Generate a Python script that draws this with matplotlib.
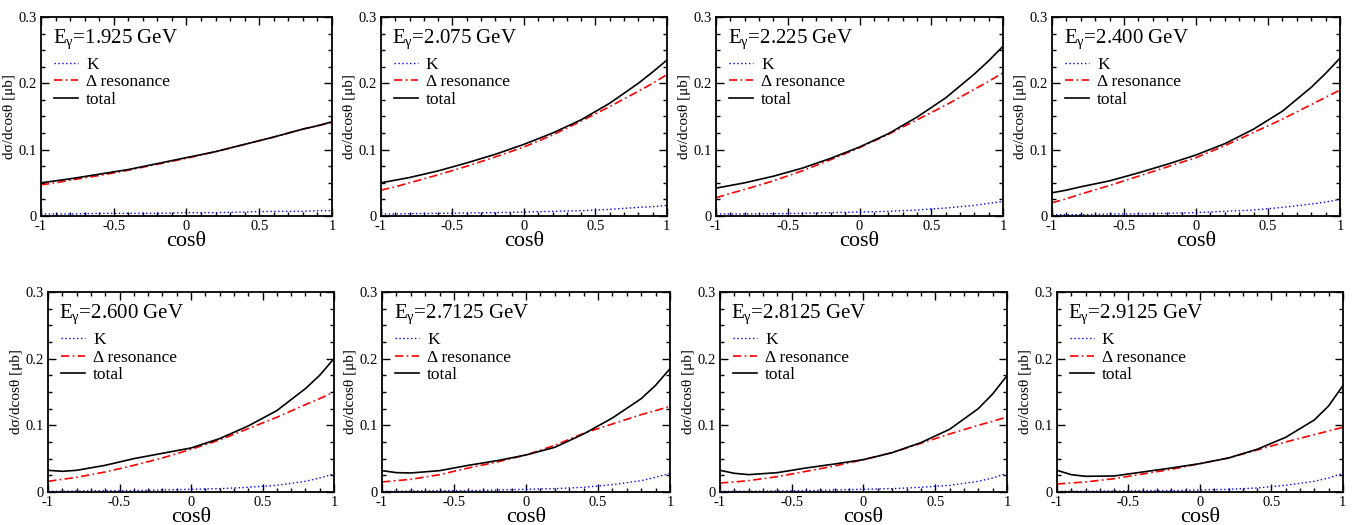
import matplotlib
matplotlib.use('Agg')
import matplotlib.pyplot as plt
from matplotlib.ticker import MultipleLocator, FuncFormatter

plt.rcParams['font.family'] = ['Liberation Serif', 'DejaVu Serif']
plt.rcParams['mathtext.fontset'] = 'custom'
plt.rcParams['mathtext.rm'] = 'Liberation Serif'
plt.rcParams['mathtext.it'] = 'Liberation Serif:italic'

# photon energies (GeV)
energies = ['1.925', '2.075', '2.225', '2.400', '2.600', '2.7125', '2.8125', '2.9125']

# cos(theta) sample points
cos_theta = [-1.0, -0.9, -0.8, -0.6, -0.4, -0.2, 0.0, 0.2, 0.4, 0.6, 0.8, 0.9, 1.0]

# dsigma/dcos(theta) [mub], one list per energy
k_exch = [
    [.003, .003, .003, .004, .004, .004, .005, .005, .006, .007, .007, .008, .008],
    [.003, .003, .0035, .004, .0045, .005, .006, .007, .008, .010, .013, .014, .016],
    [.003, .003, .003, .0035, .004, .005, .006, .007, .009, .012, .016, .019, .022],
    [.002, .002, .002, .003, .003, .004, .005, .007, .009, .013, .018, .021, .025],
    [.001, .001, .0015, .002, .002, .003, .004, .005, .007, .010, .016, .021, .027],
    [.001, .001, .0015, .002, .002, .003, .004, .005, .007, .011, .017, .022, .028],
    [.001, .001, .001, .0015, .002, .003, .004, .005, .007, .010, .016, .021, .028],
    [.001, .001, .001, .0015, .002, .002, .003, .004, .006, .010, .016, .021, .028],
]
delta_res = [
    [.047, .050, .054, .061, .069, .078, .087, .097, .108, .119, .131, .136, .141],
    [.039, .044, .050, .062, .075, .089, .104, .122, .143, .165, .188, .200, .213],
    [.0275, .034, .040, .053, .068, .085, .103, .123, .145, .167, .191, .203, .216],
    [.020, .026, .033, .046, .060, .074, .088, .106, .126, .146, .168, .179, .190],
    [.016, .019, .022, .030, .040, .051, .064, .078, .095, .112, .131, .140, .150],
    [.015, .017, .019, .026, .036, .045, .0555, .070, .088, .102, .116, .122, .1285],
    [.0135, .015, .017, .023, .031, .039, .0485, .059, .073, .087, .100, .106, .1125],
    [.012, .0135, .015, .020, .027, .034, .0425, .051, .063, .075, .086, .0915, .097],
]
total = [
    [.050, .053, .056, .063, .070, .079, .088, .097, .108, .119, .131, .136, .142],
    [.050, .054, .058, .068, .080, .093, .108, .125, .145, .170, .200, .217, .235],
    [.042, .046, .050, .060, .072, .087, .104, .124, .149, .178, .214, .234, .256],
    [.035, .039, .044, .053, .065, .078, .092, .109, .131, .158, .194, .215, .238],
    [.0325, .031, .0325, .040, .050, .058, .066, .080, .099, .122, .155, .175, .200],
    [.032, .029, .0285, .032, .040, .047, .0555, .067, .087, .111, .140, .160, .185],
    [.0325, .028, .026, .029, .036, .042, .0485, .059, .074, .094, .125, .147, .1745],
    [.0325, .026, .0235, .024, .030, .036, .0425, .051, .064, .082, .108, .129, .1595],
]

rects = [
    [.0301, .5886, .2138, .379], [.2799, .5886, .2101, .379],
    [.5261, .5886, .2109, .379], [.7730, .5886, .2116, .379],
    [.0353, .0629, .2101, .381], [.2807, .0629, .2116, .381],
    [.5290, .0629, .2109, .381], [.7766, .0629, .2101, .381],
]

fig = plt.figure(figsize=(13.61, 5.25), dpi=100)
fmt = FuncFormatter(lambda v, p: '%g' % round(v, 3))

for i in range(8):
    ax = fig.add_axes(rects[i])
    ax.plot(cos_theta, k_exch[i], color='blue', ls=(0, (1, 1.8)), lw=1.0, label='K')
    ax.plot(cos_theta, delta_res[i], color='red', ls=(0, (5, 2, 1, 2)), lw=1.2,
            label='Δ resonance')
    ax.plot(cos_theta, total[i], color='black', ls='-', lw=1.2, label='total')

    ax.set_xlim(-1, 1)
    ax.set_ylim(0, 0.3)
    ax.xaxis.set_major_locator(MultipleLocator(0.5))
    ax.xaxis.set_minor_locator(MultipleLocator(0.1))
    ax.yaxis.set_major_locator(MultipleLocator(0.1))
    ax.yaxis.set_minor_locator(MultipleLocator(0.025))
    ax.xaxis.set_major_formatter(fmt)
    ax.yaxis.set_major_formatter(fmt)
    ax.tick_params(which='both', direction='in', top=True, right=True, labelsize=10.5, pad=3)
    ax.tick_params(which='major', length=6, width=1.0)
    ax.tick_params(which='minor', length=3, width=1.0)
    for s in ax.spines.values():
        s.set_linewidth(1.3)

    ax.set_xlabel('cosθ', fontsize=16, labelpad=-1)
    ax.set_ylabel('dσ/dcosθ [μb]', fontsize=11, labelpad=2)

    ax.text(0.04, 0.945, r'E$_\mathrm{γ}$=' + energies[i] + ' GeV', transform=ax.transAxes,
            fontsize=15, ha='left', va='top')
    ax.legend(loc='upper left', bbox_to_anchor=(0.045, 0.80), frameon=False,
              fontsize=12.5, handlelength=1.4, handletextpad=0.45, labelspacing=0.08,
              borderpad=0, borderaxespad=0)

plt.savefig('out.png', dpi=100)
